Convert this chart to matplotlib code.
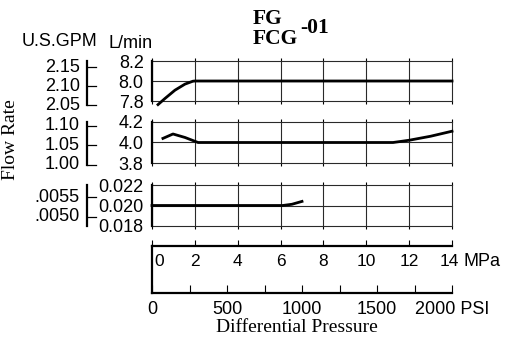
import numpy as np
import matplotlib.pyplot as plt

plt.rcParams['font.family'] = 'Liberation Sans'

# ---- Datos ----
mpa_ticks = [0, 2, 4, 6, 8, 10, 12, 14]
psi_major = [0, 500, 1000, 1500, 2000]
psi_labels = ['0', '500', '1000', '1500', '2000 PSI']
psi_minor = [250, 750, 1250, 1750]
PSI_PER_MPA = 2000 / 14      # escala tal como está dibujada
LPM_PER_GPM = 3.785

# panel 8 L/min
p1_mpa = [0.28, 0.61, 1.07, 1.54, 1.91, 2.0, 14.0]
p1_lpm = [7.764, 7.826, 7.908, 7.969, 7.998, 8.0, 8.0]
p1_yticks = [7.8, 8.0, 8.2]
p1_ylabels = ['7.8', '8.0', '8.2']
p1_gpm = [2.05, 2.10, 2.15]
p1_gpm_labels = ['2.05', '2.10', '2.15']

# panel 4 L/min
p2_mpa = [0.51, 0.98, 1.54, 2.15, 11.25, 12.0, 13.0, 14.0]
p2_lpm = [4.04, 4.083, 4.049, 4.0, 4.0, 4.022, 4.061, 4.11]
p2_yticks = [3.8, 4.0, 4.2]
p2_ylabels = ['3.8', '4.0', '4.2']
p2_gpm = [1.00, 1.05, 1.10]
p2_gpm_labels = ['1.00', '1.05', '1.10']

# panel 0.02 L/min
p3_mpa = [0.0, 6.1, 6.53, 7.0]
p3_lpm = [0.020, 0.020, 0.02012, 0.0204]
p3_yticks = [0.018, 0.020, 0.022]
p3_ylabels = ['0.018', '0.020', '0.022']
p3_gpm = [0.0050, 0.0055]
p3_gpm_labels = ['.0050', '.0055']

W, H = 507, 354
fig = plt.figure(figsize=(W / 100, H / 100), dpi=100)


def box(x0, y0, x1, y1):
    # rectángulo en píxeles (origen arriba-izquierda) -> fracción de figura
    return [x0 / W, 1 - y1 / H, (x1 - x0) / W, (y1 - y0) / H]


panels = [
    (box(152, 61, 452, 101), p1_mpa, p1_lpm, p1_yticks, p1_ylabels, p1_gpm, p1_gpm_labels),
    (box(152, 122, 452, 163), p2_mpa, p2_lpm, p2_yticks, p2_ylabels, p2_gpm, p2_gpm_labels),
    (box(152, 185, 452, 226), p3_mpa, p3_lpm, p3_yticks, p3_ylabels, p3_gpm, p3_gpm_labels),
]

for rect, x, y, yt, yl, gpm, gpm_lab in panels:
    ax = fig.add_axes(rect)
    ax.set_xlim(0, 14)
    ax.set_ylim(yt[0], yt[-1])
    ax.set_xticks(mpa_ticks)
    ax.set_yticks(yt)
    ax.set_yticklabels(yl)
    ax.grid(True, color='#2a2a2a', lw=0.8)
    for g in ax.get_ygridlines() + ax.get_xgridlines():
        g.set_clip_on(False)
    for s in ['top', 'right', 'bottom']:
        ax.spines[s].set_visible(False)
    ax.spines['left'].set_linewidth(1.6)
    ax.tick_params(axis='x', top=True, bottom=True, direction='out',
                   length=2.5, width=0.8, labelbottom=False)
    ax.tick_params(axis='y', length=0, pad=6, labelsize=13)
    ax.plot(x, y, color='black', lw=2.0, clip_on=False, zorder=5)

    # escala U.S.GPM a la izquierda
    tr = ax.get_yaxis_transform()
    gl = [g * LPM_PER_GPM for g in gpm]
    lo, hi = min(gl[0], yt[0]), max(gl[-1], yt[-1])
    ax.plot([-0.217, -0.217], [lo, hi], transform=tr, clip_on=False,
            color='black', lw=1.6)
    for v, lab in zip(gl, gpm_lab):
        ax.plot([-0.217, -0.187], [v, v], transform=tr, clip_on=False,
                color='black', lw=0.9)
        ax.text(-0.24, v, lab, transform=tr, ha='right', va='center', fontsize=13)

# ---- Eje de presión diferencial (MPa / PSI) ----
axp = fig.add_axes(box(152, 246, 452, 293))
axp.set_xlim(0, 14)
axp.set_ylim(0, 1)
axp.set_yticks([])
axp.spines['right'].set_visible(False)
axp.spines['bottom'].set_visible(False)
axp.spines['top'].set_linewidth(1.6)
axp.spines['left'].set_linewidth(1.6)
axp.xaxis.tick_top()
axp.set_xticks(mpa_ticks)
axp.tick_params(axis='x', direction='out', length=4.5, width=0.8, labeltop=False)
for m in mpa_ticks:
    dx = 2 if m == 0 else (-2 if m == 14 else 0)
    axp.annotate(str(m), (m, 0.66), xytext=(dx, 0),
                 textcoords='offset points', ha='left' if m == 0 else 'center',
                 va='center', fontsize=12.5)
axp.text(14.55, 0.66, 'MPa', ha='left', va='center', fontsize=13)

sec = axp.secondary_xaxis('bottom', functions=(lambda m: m * PSI_PER_MPA,
                                               lambda p: p / PSI_PER_MPA))
sec.set_xticks(psi_major, psi_labels)
sec.set_xticks(psi_minor, minor=True)
sec.tick_params(which='both', direction='in', length=6, width=0.8, pad=6, labelsize=13)
sec.spines['bottom'].set_linewidth(1.6)

# ---- Textos ----
serif = 'Liberation Serif'
fig.text(253 / W, 1 - 18.5 / H, 'FG', family=serif, weight='bold', size=15.5,
         ha='left', va='center')
fig.text(253 / W, 1 - 38.5 / H, 'FCG', family=serif, weight='bold', size=15.5,
         ha='left', va='center')
fig.text(300 / W, 1 - 28 / H, '-01', family=serif, weight='bold', size=15.5,
         ha='left', va='center')
fig.text(22 / W, 1 - 42 / H, 'U.S.GPM', size=13, ha='left', va='center')
fig.text(108 / W, 1 - 44 / H, 'L/min', size=13, ha='left', va='center')
fig.text(11 / W, 1 - 140 / H, 'Flow Rate', family=serif, size=14,
         rotation=90, ha='center', va='center')
fig.text(297 / W, 1 - 328 / H, 'Differential Pressure', family=serif, size=14,
         ha='center', va='center')

fig.savefig('out.png', dpi=100)
